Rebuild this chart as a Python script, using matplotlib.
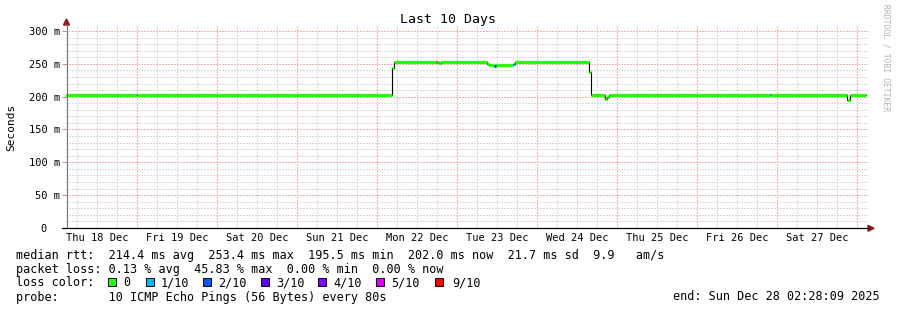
import matplotlib
matplotlib.use("Agg")
import matplotlib.pyplot as plt
from matplotlib.patches import Rectangle, Polygon
from matplotlib.lines import Line2D
import numpy as np

# ---------------- data ----------------
# step segments of the median RTT (hours since Thu 18 Dec 00:00)
seg_start_h = [2.47, 23.55, 23.85, 100.35, 101.1, 113.55, 113.85, 114.6, 115.2,
               129.0, 129.6, 131.1, 131.7, 136.8, 137.4, 159.6, 160.2, 164.4,
               165.0, 165.6, 213.75, 214.05, 237.0, 237.9]
seg_median_ms = [202, 202, 202, 243, 253, 253, 253, 252, 253,
                 249.5, 248, 246.5, 248, 250, 253, 237, 202, 196,
                 200, 202, 202, 202, 195.5, 202]
seg_loss = [0, 1, 0, 0, 0, 5, 0, 0, 0,
            0, 0, 2, 0, 1, 0, 0, 0, 0,
            0, 0, 1, 0, 0, 0]
end_h = 242.7

day_labels = ["Thu 18 Dec", "Fri 19 Dec", "Sat 20 Dec", "Sun 21 Dec", "Mon 22 Dec",
              "Tue 23 Dec", "Wed 24 Dec", "Thu 25 Dec", "Fri 26 Dec", "Sat 27 Dec"]
ytick_vals = [0, 50, 100, 150, 200, 250, 300]
ytick_labels = ["0  ", "50 m", "100 m", "150 m", "200 m", "250 m", "300 m"]

loss_keys = [0, 1, 2, 3, 4, 5, 9]
loss_labels = ["0", "1/10", "2/10", "3/10", "4/10", "5/10", "9/10"]
loss_colors = ["#26ff00", "#00b8ff", "#0059ff", "#5e00ff", "#7e00ff", "#dd00ff", "#ff0000"]

title = "Last 10 Days"
line_rtt = "median rtt:  214.4 ms avg  253.4 ms max  195.5 ms min  202.0 ms now  21.7 ms sd  9.9   am/s"
line_loss = "packet loss: 0.13 % avg  45.83 % max  0.00 % min  0.00 % now"
line_probe = "probe:       10 ICMP Echo Pings (56 Bytes) every 80s"
line_end = "end: Sun Dec 28 02:28:09 2025"

# ---------------- layout ----------------
W, H = 897, 310
MONO = "DejaVu Sans Mono"
fig = plt.figure(figsize=(W / 100, H / 100), dpi=100)
fig.patch.set_facecolor("white")


def fx(px):
    return px / W


def fy(py):
    return 1 - py / H


ax = fig.add_axes([fx(66), fy(228), (868 - 66) / W, (228 - 26) / H])
ax.set_facecolor("white")
ax.set_xlim(2.7, 243.3)
ax.set_ylim(0, 307.6)
for s in ax.spines.values():
    s.set_visible(False)

GRID = "#d9d9d9"
MGRID = "#f2b0b0"
dot = (0, (1.4, 1.4))
for h in np.arange(6, 244, 6):
    if h % 24 == 0:
        continue
    ax.axvline(h, color=GRID, lw=0.72, ls=dot, zorder=0, antialiased=False)
for v in np.arange(10, 308, 10):
    if v % 50 == 0:
        continue
    ax.axhline(v, color=GRID, lw=0.72, ls=dot, zorder=0, antialiased=False)
for h in np.arange(24, 244, 24):
    ax.axvline(h, color=MGRID, lw=0.72, ls=dot, zorder=1, antialiased=False)
for v in np.arange(50, 308, 50):
    ax.axhline(v, color=MGRID, lw=0.72, ls=dot, zorder=1, antialiased=False)

# median line
times = seg_start_h + [end_h]
color_of = dict(zip(loss_keys, loss_colors))
ax.step(times, seg_median_ms + [seg_median_ms[-1]], where="post", color="black",
        lw=0.8, zorder=2)
for i in range(len(seg_start_h)):
    ax.plot([times[i], times[i + 1]], [seg_median_ms[i]] * 2,
            color=color_of[seg_loss[i]], lw=2.3, solid_capstyle="butt", zorder=3)

# ticks
noon = [12 + 24 * i for i in range(len(day_labels))]
ax.set_xticks(noon, labels=day_labels)
ax.tick_params(axis="x", length=0, pad=3.5, labelsize=7.5)
ax.set_yticks(ytick_vals, labels=ytick_labels)
ax.tick_params(axis="y", length=3, width=0.7, color="#d08080", pad=1.5, labelsize=7.5)
for lab in ax.get_xticklabels() + ax.get_yticklabels():
    lab.set_family(MONO)

# axes lines & arrows
fig.add_artist(Line2D([fx(66.5), fx(66.5)], [fy(24), fy(228)], color="#707070", lw=0.8))
fig.add_artist(Line2D([fx(62), fx(869)], [fy(228.3), fy(228.3)], color="black", lw=0.9))
ARROW = "#8b1a1a"
fig.add_artist(Polygon([[fx(66.5), fy(19)], [fx(63.5), fy(25)], [fx(69.5), fy(25)]],
                       closed=True, color=ARROW, transform=fig.transFigure))
fig.add_artist(Polygon([[fx(874), fy(228.3)], [fx(868), fy(225.3)], [fx(868), fy(231.3)]],
                       closed=True, color=ARROW, transform=fig.transFigure))

# titles
fig.text(fx(448), fy(19.5), title, family=MONO, size=9.5, ha="center", va="center")
fig.text(fx(11), fy(127), "Seconds", family=MONO, size=8, rotation=90,
         ha="center", va="center")
fig.text(fx(886), fy(4), "RRDTOOL / TOBI OETIKER", family=MONO, size=5.8,
         rotation=-90, ha="center", va="top", color="#b4b4b4")

# legend
LS = 8.5
fig.text(fx(16), fy(258.5), line_rtt, family=MONO, size=LS, va="baseline")
fig.text(fx(16), fy(272.5), line_loss, family=MONO, size=LS, va="baseline")
fig.text(fx(16), fy(286.5), "loss color:", family=MONO, size=LS, va="baseline")
fig.text(fx(16), fy(300.5), line_probe, family=MONO, size=LS, va="baseline")
fig.text(fx(880), fy(300.5), line_end, family=MONO, size=LS, va="baseline", ha="right")

box_x = [108.3, 145.7, 203.0, 261.0, 318.0, 376.0, 435.0]
lab_x = [123.3, 160.7, 218.3, 276.0, 333.0, 390.7, 452.0]
for bx, tx, lab, col in zip(box_x, lab_x, loss_labels, loss_colors):
    fig.add_artist(Rectangle((fx(bx), fy(286.3)), 8 / W, 8 / H, facecolor=col,
                             edgecolor="black", lw=0.7, transform=fig.transFigure))
    fig.text(fx(tx), fy(286.5), lab, family=MONO, size=LS, va="baseline")

fig.savefig("out.png", dpi=100, facecolor="white")
